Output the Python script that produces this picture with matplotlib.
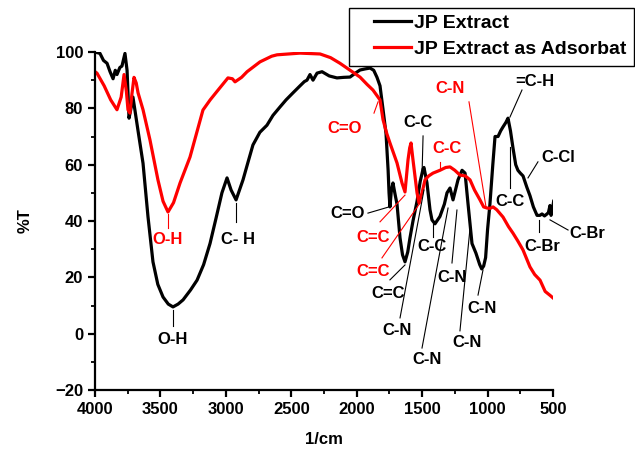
import matplotlib
matplotlib.use('Agg')
import matplotlib.pyplot as plt
from matplotlib.patches import Rectangle
from matplotlib.ticker import MultipleLocator

plt.rcParams['font.family'] = ['Liberation Sans', 'DejaVu Sans']
plt.rcParams['font.weight'] = 'bold'

# JP Extract (black)
black_wn = [4000, 3962, 3935, 3908, 3885, 3862, 3845, 3832, 3810, 3794, 3771, 3755,
            3740, 3725, 3710, 3671, 3633, 3595, 3557, 3520, 3480, 3440, 3404, 3365,
            3327, 3270, 3220, 3170, 3121, 3075, 3030, 2991, 2960, 2922, 2869, 2830,
            2793, 2740, 2686, 2640, 2586, 2540, 2487, 2433, 2400, 2380, 2357, 2334,
            2303, 2265, 2210, 2151, 2100, 2051, 2010, 1975, 1935, 1898, 1870, 1845,
            1822, 1800, 1776, 1760, 1753, 1746, 1735, 1723, 1705, 1692, 1669, 1650,
            1631, 1610, 1593, 1570, 1539, 1515, 1493, 1486, 1463, 1440, 1425, 1402,
            1364, 1330, 1310, 1287, 1264, 1226, 1195, 1172, 1150, 1119, 1089, 1060,
            1045, 1030, 1015, 1000, 982, 960, 943, 920, 900, 882, 860, 844,
            825, 806, 785, 768, 750, 729, 700, 676, 650, 622, 600, 584,
            565, 546, 535, 523, 515, 505, 495]
black_t = [100, 99.5, 97, 96, 93, 90.5, 93.5, 92, 94.5, 95, 99.5, 93.5,
           76.5, 80, 84, 72, 60.5, 41.5, 25.5, 17.5, 13, 10.5, 9.5, 10.5,
           12, 15.5, 19, 24.5, 32, 41, 50, 55.3, 51, 47.5, 54.6, 61,
           67, 71.5, 74, 77.5, 80.5, 83, 85.5, 88, 89.5, 90, 92, 90,
           92.5, 93, 91.5, 90.8, 91, 91.1, 92.5, 93.6, 94, 94.3, 93.5, 91,
           88, 80, 71, 58, 50, 45, 51, 53.5, 49, 46, 34, 28,
           25.5, 29, 34, 40, 47, 54, 58.5, 59, 53.5, 44, 40.4, 39,
           41.6, 46, 50, 51.7, 47.5, 54.6, 58, 57, 46.4, 32, 28.6, 24.5,
           23, 24, 27, 37, 46, 60, 70, 70, 72, 73.4, 75, 76.5,
           72, 66, 60, 58, 57, 56, 52, 49, 45, 42, 42, 42.5,
           41.8, 42.5, 43, 45.5, 42, 44, 47]

# JP Extract as Adsorbat (red)
red_wn = [4000, 3985, 3930, 3880, 3832, 3800, 3778, 3760, 3748, 3733, 3718, 3702,
          3685, 3671, 3633, 3580, 3519, 3480, 3442, 3400, 3350, 3274, 3175, 3120,
          3068, 2984, 2950, 2930, 2880, 2838, 2739, 2650, 2609, 2433, 2280, 2200,
          2128, 2050, 1975, 1921, 1876, 1845, 1822, 1799, 1770, 1746, 1692, 1654,
          1631, 1608, 1595, 1585, 1570, 1539, 1524, 1501, 1478, 1450, 1417, 1364,
          1320, 1287, 1250, 1211, 1170, 1134, 1100, 1058, 1030, 1004, 980, 958,
          930, 882, 840, 806, 770, 729, 676, 640, 599, 560, 520, 500]
red_t = [93, 92.5, 88, 83, 79.5, 84, 92, 86, 79.5, 78.3, 85, 91,
         89, 85.5, 79.5, 68.8, 54.6, 47, 43.2, 46.5, 53.5, 62.7, 79.4, 83,
         86, 90.8, 90.5, 89.4, 91, 93, 96.5, 98.5, 99, 99.6, 99.3, 98,
         96, 93.5, 91.1, 88.5, 86.5, 84.5, 83, 76, 71, 67.7, 60.6, 53.5,
         50.3, 61.7, 66, 67.7, 61.7, 50, 46.4, 50, 54.6, 56, 57, 58,
         59, 59.2, 58, 56.3, 56, 54.6, 51, 47.5, 45, 44.6, 44.5, 45,
         44, 41.4, 38, 35.7, 33, 29.7, 23.7, 21, 19, 15, 13.5, 12.7]

# band labels: text, colour, text position, leader line from -> to
labels = [
    ('O-H', 'red', 3442, 33.3, 3442, 42.5, 3442, 37.5),
    ('C=O', 'red', 2090, 73.0, 1868, 78.3, 1837, 82.3),
    ('C=C', 'red', 1876, 34.0, 1822, 39.7, 1631, 49.2),
    ('C=C', 'red', 1876, 21.9, 1807, 26.9, 1516, 46.4),
    ('C-C', 'red', 1310, 65.9, 1364, 61.0, 1364, 58.1),
    ('C-N', 'red', 1287, 87.2, 1142, 82.3, 1012, 45.0),
    ('O-H', 'black', 3404, -2.2, 3404, 8.4, 3404, 2.7),
    ('C- H', 'black', 2907, 33.3, 2922, 46.4, 2922, 39.7),
    ('C=O', 'black', 2067, 42.8, 1914, 42.8, 1753, 45.0),
    ('C=C', 'black', 1761, 14.4, 1746, 19.1, 1631, 24.4),
    ('C-C', 'black', 1532, 74.8, 1493, 70.2, 1501, 56.3),
    ('C-C', 'black', 1425, 30.8, 1417, 34.3, 1417, 38.9),
    ('C-N', 'black', 1692, 1.3, 1669, 5.6, 1486, 51.0),
    ('C-N', 'black', 1463, -9.3, 1501, -5.1, 1302, 44.6),
    ('C-N', 'black', 1272, 20.1, 1272, 25.1, 1234, 43.9),
    ('C-N', 'black', 1157, -3.3, 1211, 1.0, 1134, 37.5),
    ('C-N', 'black', 1042, 9.1, 1073, 13.7, 1035, 22.6),
    ('C-C', 'black', 829, 46.8, 829, 51.7, 829, 66.3),
    ('=C-H', 'black', 638, 89.4, 737, 86.5, 829, 76.9),
    ('C-Cl', 'black', 462, 62.4, 615, 61.0, 691, 55.3),
    ('C-Br', 'black', 584, 30.8, 607, 40.4, 607, 36.1),
    ('C-Br', 'black', 240, 35.7, 523, 40.4, 385, 36.8),
]

W, H = 635, 451
fig = plt.figure(figsize=(W / 100, H / 100), dpi=100)
ax = fig.add_axes([95 / W, 61 / H, 458 / W, 338 / H])

ax.plot(black_wn, black_t, color='black', lw=2.3, label='JP Extract')
ax.plot(red_wn, red_t, color='red', lw=2.3, label='JP Extract as Adsorbat')

for text, col, tx, ty, x0, y0, x1, y1 in labels:
    ax.plot([x0, x1], [y0, y1], color=col, lw=0.8, clip_on=False)
    ax.text(tx, ty, text, color=col, fontsize=12, fontweight='bold',
            ha='center', va='center', clip_on=False)

ax.set_xlim(4000, 500)
ax.set_ylim(-20, 100)
ax.xaxis.set_major_locator(MultipleLocator(500))
ax.xaxis.set_minor_locator(MultipleLocator(250))
ax.yaxis.set_major_locator(MultipleLocator(20))
ax.yaxis.set_minor_locator(MultipleLocator(10))

for side in ['top', 'right']:
    ax.spines[side].set_visible(False)
for side in ['left', 'bottom']:
    ax.spines[side].set_linewidth(1.6)
ax.tick_params(which='major', direction='out', length=5, width=1.6, labelsize=12)
ax.tick_params(which='minor', direction='out', length=3, width=1.3)
for lab in ax.get_xticklabels() + ax.get_yticklabels():
    lab.set_fontweight('bold')

ax.set_xlabel('1/cm', fontsize=12, fontweight='bold', labelpad=11)
ax.set_ylabel('%T', fontsize=12, fontweight='bold', labelpad=16)

# legend with a wide, square frame like the original
leg = fig.legend(loc='upper left', bbox_to_anchor=(374 / W, 1 - 14 / H), fontsize=14,
                 frameon=False, handlelength=1.9, handletextpad=0.15,
                 borderpad=0.0, labelspacing=0.45, borderaxespad=0.0)
for t in leg.get_texts():
    t.set_fontweight('bold')
fig.patches.append(Rectangle((349 / W, 1 - 66 / H), 285 / W, 58 / H,
                             transform=fig.transFigure, fill=False,
                             edgecolor='black', linewidth=1.0))

fig.savefig('out.png', dpi=100)
